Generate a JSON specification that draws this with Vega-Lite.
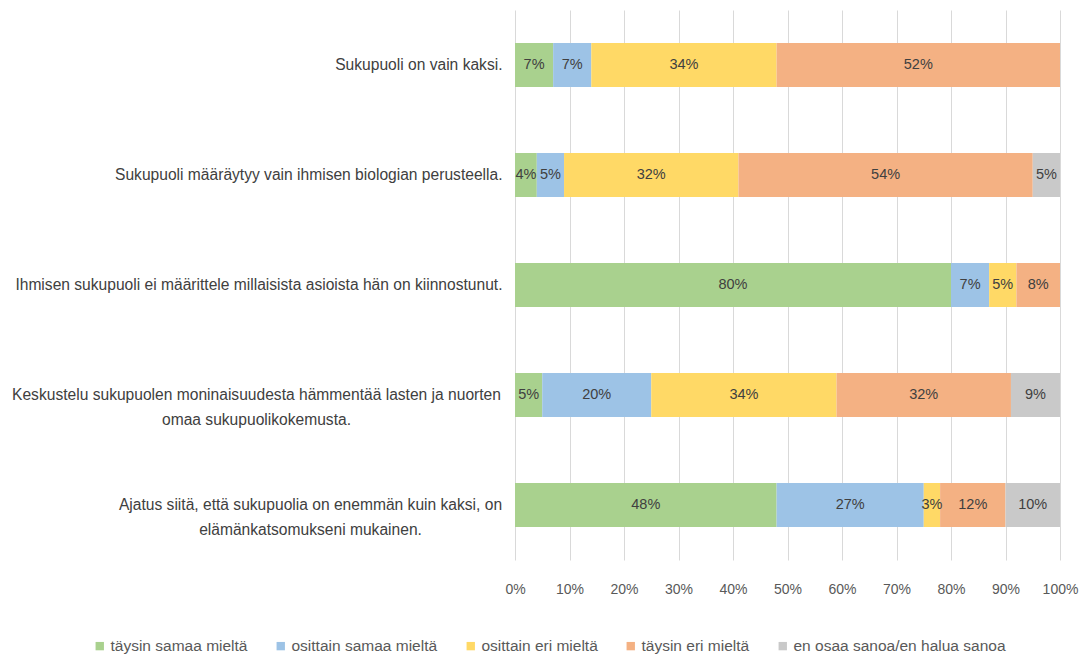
{
  "$schema": "https://vega.github.io/schema/vega-lite/v6.json",
  "width": 545,
  "height": 550,
  "autosize": {"type": "none"},
  "padding": {"left": 515, "top": 10, "right": 27, "bottom": 101},
  "background": "white",
  "config": {"view": {"stroke": null}, "font": "Liberation Sans"},
  "data": {
    "values": [
      {"q": "Sukupuoli on vain kaksi.", "cat": "täysin samaa mieltä", "order": 1, "value": 0.07},
      {"q": "Sukupuoli on vain kaksi.", "cat": "osittain samaa mieltä", "order": 2, "value": 0.07},
      {"q": "Sukupuoli on vain kaksi.", "cat": "osittain eri mieltä", "order": 3, "value": 0.34},
      {"q": "Sukupuoli on vain kaksi.", "cat": "täysin eri mieltä", "order": 4, "value": 0.52},
      {"q": "Sukupuoli määräytyy vain ihmisen biologian perusteella.", "cat": "täysin samaa mieltä", "order": 1, "value": 0.04},
      {"q": "Sukupuoli määräytyy vain ihmisen biologian perusteella.", "cat": "osittain samaa mieltä", "order": 2, "value": 0.05},
      {"q": "Sukupuoli määräytyy vain ihmisen biologian perusteella.", "cat": "osittain eri mieltä", "order": 3, "value": 0.32},
      {"q": "Sukupuoli määräytyy vain ihmisen biologian perusteella.", "cat": "täysin eri mieltä", "order": 4, "value": 0.54},
      {"q": "Sukupuoli määräytyy vain ihmisen biologian perusteella.", "cat": "en osaa sanoa/en halua sanoa", "order": 5, "value": 0.05},
      {"q": "Ihmisen sukupuoli ei määrittele millaisista asioista hän on kiinnostunut.", "cat": "täysin samaa mieltä", "order": 1, "value": 0.80},
      {"q": "Ihmisen sukupuoli ei määrittele millaisista asioista hän on kiinnostunut.", "cat": "osittain samaa mieltä", "order": 2, "value": 0.07},
      {"q": "Ihmisen sukupuoli ei määrittele millaisista asioista hän on kiinnostunut.", "cat": "osittain eri mieltä", "order": 3, "value": 0.05},
      {"q": "Ihmisen sukupuoli ei määrittele millaisista asioista hän on kiinnostunut.", "cat": "täysin eri mieltä", "order": 4, "value": 0.08},
      {"q": "Keskustelu sukupuolen moninaisuudesta hämmentää lasten ja nuorten|omaa sukupuolikokemusta.", "cat": "täysin samaa mieltä", "order": 1, "value": 0.05},
      {"q": "Keskustelu sukupuolen moninaisuudesta hämmentää lasten ja nuorten|omaa sukupuolikokemusta.", "cat": "osittain samaa mieltä", "order": 2, "value": 0.20},
      {"q": "Keskustelu sukupuolen moninaisuudesta hämmentää lasten ja nuorten|omaa sukupuolikokemusta.", "cat": "osittain eri mieltä", "order": 3, "value": 0.34},
      {"q": "Keskustelu sukupuolen moninaisuudesta hämmentää lasten ja nuorten|omaa sukupuolikokemusta.", "cat": "täysin eri mieltä", "order": 4, "value": 0.32},
      {"q": "Keskustelu sukupuolen moninaisuudesta hämmentää lasten ja nuorten|omaa sukupuolikokemusta.", "cat": "en osaa sanoa/en halua sanoa", "order": 5, "value": 0.09},
      {"q": "Ajatus siitä, että sukupuolia on enemmän kuin kaksi, on|elämänkatsomukseni mukainen.", "cat": "täysin samaa mieltä", "order": 1, "value": 0.48},
      {"q": "Ajatus siitä, että sukupuolia on enemmän kuin kaksi, on|elämänkatsomukseni mukainen.", "cat": "osittain samaa mieltä", "order": 2, "value": 0.27},
      {"q": "Ajatus siitä, että sukupuolia on enemmän kuin kaksi, on|elämänkatsomukseni mukainen.", "cat": "osittain eri mieltä", "order": 3, "value": 0.03},
      {"q": "Ajatus siitä, että sukupuolia on enemmän kuin kaksi, on|elämänkatsomukseni mukainen.", "cat": "täysin eri mieltä", "order": 4, "value": 0.12},
      {"q": "Ajatus siitä, että sukupuolia on enemmän kuin kaksi, on|elämänkatsomukseni mukainen.", "cat": "en osaa sanoa/en halua sanoa", "order": 5, "value": 0.10}
    ]
  },
  "transform": [
    {"stack": "value", "groupby": ["q"], "sort": [{"field": "order", "order": "ascending"}], "as": ["v0", "v1"]},
    {"calculate": "(datum.v0 + datum.v1) / 2", "as": "mid"}
  ],
  "encoding": {
    "y": {
      "field": "q",
      "type": "nominal",
      "sort": null,
      "scale": {"paddingInner": 0.6, "paddingOuter": 0.3},
      "axis": {
        "title": null,
        "domain": false,
        "ticks": false,
        "tickSize": 0,
        "grid": false,
        "labelFontSize": 15.6,
        "labelColor": "#404040",
        "labelLimit": 700,
        "labelLineHeight": 25,
        "labelExpr": "split(datum.label, '|')",
        "labelAlign": {"condition": {"test": "indexof(datum.value, '|') >= 0", "value": "center"}, "value": "right"},
        "labelPadding": {
          "condition": [
            {"test": "indexof(datum.value, 'Keskustelu') == 0", "value": 259},
            {"test": "indexof(datum.value, 'Ajatus') == 0", "value": 205}
          ],
          "value": 13
        }
      }
    }
  },
  "layer": [
    {
      "mark": {"type": "bar"},
      "encoding": {
        "x": {
          "field": "v0",
          "type": "quantitative",
          "scale": {"domain": [0, 1], "nice": false},
          "axis": {
            "title": null,
            "values": [0, 0.1, 0.2, 0.3, 0.4, 0.5, 0.6, 0.7, 0.8, 0.9, 1],
            "format": ".0%",
            "grid": true,
            "gridColor": "#D9D9D9",
            "gridWidth": 1,
            "domain": false,
            "ticks": false,
            "tickSize": 0,
            "labelFontSize": 14,
            "labelColor": "#595959",
            "labelPadding": 22,
            "labelFlush": false
          }
        },
        "x2": {"field": "v1"},
        "color": {
          "field": "cat",
          "type": "nominal",
          "scale": {
            "domain": ["täysin samaa mieltä", "osittain samaa mieltä", "osittain eri mieltä", "täysin eri mieltä", "en osaa sanoa/en halua sanoa"],
            "range": ["#A9D18E", "#9DC3E6", "#FFD966", "#F4B183", "#C9C9C9"]
          },
          "legend": {
            "orient": "none",
            "legendX": -423,
            "legendY": 628,
            "direction": "horizontal",
            "title": null,
            "symbolType": "square",
            "symbolSize": 70,
            "symbolStrokeWidth": 0,
            "labelFontSize": 15.5,
            "labelColor": "#595959",
            "labelOffset": 3,
            "columnPadding": 25,
            "labelLimit": 400
          }
        }
      }
    },
    {
      "mark": {"type": "text", "fontSize": 14.5, "color": "#404040"},
      "encoding": {
        "x": {"field": "mid", "type": "quantitative"},
        "text": {"field": "value", "type": "quantitative", "format": ".0%"}
      }
    }
  ]
}
